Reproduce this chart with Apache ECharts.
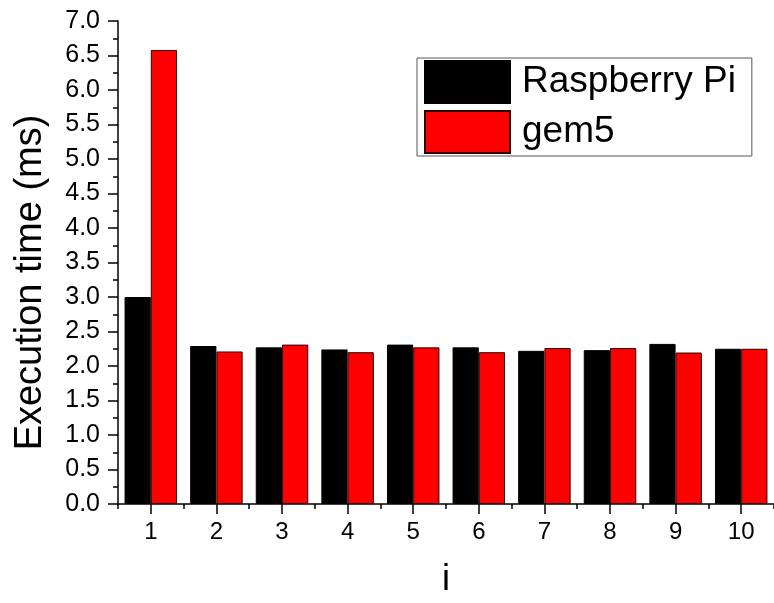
<!DOCTYPE html>
<html>
<head>
<meta charset="utf-8">
<script src="https://cdn.jsdelivr.net/npm/echarts@6/dist/echarts.min.js"></script>
<style>
html,body{margin:0;padding:0;background:#fff;}
#chart{width:774px;height:603px;}
</style>
</head>
<body>
<div id="chart"></div>
<script>
const categories = ['1','2','3','4','5','6','7','8','9','10'];
const raspberryPi = [3.00, 2.29, 2.27, 2.24, 2.31, 2.27, 2.22, 2.23, 2.32, 2.25];
const gem5 = [6.58, 2.21, 2.31, 2.20, 2.27, 2.20, 2.26, 2.26, 2.195, 2.25];
const seriesNames = ['Raspberry Pi', 'gem5'];
const yTitle = 'Execution time (ms)';
const xTitle = 'i';

const FONT = 'Liberation Sans, Arial, sans-serif';
const chart = echarts.init(document.getElementById('chart'), null, {renderer: 'canvas'});
chart.setOption({
  animation: false,
  backgroundColor: '#fff',
  textStyle: {fontFamily: FONT},
  grid: {left: 118, top: 21, right: -4, bottom: 98, containLabel: false},
  legend: {
    orient: 'vertical',
    left: 417, top: 58,
    padding: [2, 16, 2, 7],
    itemGap: 6,
    itemWidth: 85, itemHeight: 42,
    borderColor: '#555', borderWidth: 1,
    icon: 'rect',
    textStyle: {fontSize: 37, color: '#000', fontFamily: FONT, padding: [0, 0, 0, 7]},
    data: seriesNames
  },
  xAxis: [
    {
      type: 'category', data: categories, position: 'bottom',
      axisLine: {lineStyle: {color: '#000', width: 1.5}},
      axisTick: {show: true, length: 5, lineStyle: {color: '#000', width: 1.5}},
      axisLabel: {show: false},
      splitLine: {show: false}
    },
    {
      type: 'category', data: categories, position: 'bottom',
      axisLine: {show: false},
      axisTick: {show: true, alignWithLabel: true, length: 10, lineStyle: {color: '#000', width: 1.5}},
      axisLabel: {show: true, fontSize: 24, color: '#000', margin: 16, fontFamily: FONT},
      splitLine: {show: false},
      name: xTitle, nameLocation: 'middle', nameGap: 58,
      nameTextStyle: {fontSize: 36, color: '#000', fontFamily: FONT}
    }
  ],
  yAxis: {
    type: 'value', min: 0, max: 7, interval: 0.5,
    axisLine: {show: true, lineStyle: {color: '#000', width: 1.5}},
    axisTick: {show: true, length: 10, lineStyle: {color: '#000', width: 1.5}},
    minorTick: {show: true, splitNumber: 2, length: 5, lineStyle: {color: '#000', width: 1.5}},
    axisLabel: {fontSize: 25, color: '#000', margin: 18, fontFamily: FONT,
      formatter: v => v.toFixed(1)},
    splitLine: {show: false},
    name: yTitle, nameLocation: 'middle', nameGap: 68,
    nameTextStyle: {fontSize: 38, color: '#000', fontFamily: FONT, padding: [0, 40, 0, 0]}
  },
  series: [
    {
      name: seriesNames[0], type: 'bar', data: raspberryPi, xAxisIndex: 0,
      barGap: '0%', barCategoryGap: '20%',
      itemStyle: {color: '#000', borderColor: '#000', borderWidth: 1}
    },
    {
      name: seriesNames[1], type: 'bar', data: gem5, xAxisIndex: 0,
      barGap: '0%', barCategoryGap: '20%',
      itemStyle: {color: '#ff0000', borderColor: '#300', borderWidth: 1}
    }
  ]
});
</script>
</body>
</html>
